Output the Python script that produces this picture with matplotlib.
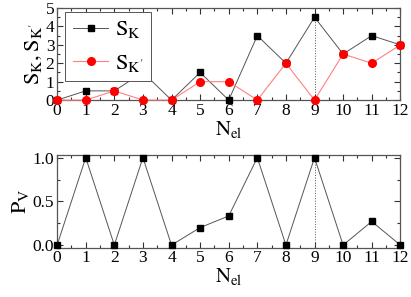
import matplotlib.pyplot as plt
from matplotlib.ticker import MultipleLocator

plt.rcParams['font.family'] = ['Liberation Serif', 'DejaVu Serif']
plt.rcParams['mathtext.fontset'] = 'stix'

# data
n_el = [0, 1, 2, 3, 4, 5, 6, 7, 8, 9, 10, 11, 12]
s_k = [0, 0.5, 0.5, 1.5, 0, 1.5, 0, 3.5, 2, 4.5, 2.5, 3.5, 3]
s_kp = [0, 0, 0.5, 0, 0, 1, 1, 0, 2, 0, 2.5, 2, 3]
p_v = [0, 1, 0, 1, 0, 0.2, 0.333, 1, 0, 1, 0, 0.27, 0]

fig = plt.figure(figsize=(4.11, 2.97), dpi=100)
ax1 = fig.add_axes([0.139, 0.663, 0.835, 0.310])
ax2 = fig.add_axes([0.139, 0.166, 0.835, 0.312])

ax1.plot(n_el, s_k, color='#555555', lw=0.7, marker='s', ms=5, mfc='black', mec='black',
         label='$\\mathrm{S_K}$', clip_on=False, zorder=3)
ax1.plot(n_el, s_kp, color='#ff8080', lw=0.8, marker='o', ms=5.5, mfc='red', mec='red',
         label="$\\mathrm{S_{K'}}$", clip_on=False, zorder=4)
ax1.plot([9, 9], [0, s_k[9]], color='#555555', lw=0.7, ls=':')
ax1.set_xlim(0, 12)
ax1.set_ylim(0, 5)
ax1.set_ylabel("$\\mathrm{S_K,S_{K'}}$", fontsize=16, labelpad=1)
ax1.set_xlabel('$\\mathrm{N_{el}}$', fontsize=15, labelpad=0)
ax1.yaxis.set_major_locator(MultipleLocator(1))
ax1.yaxis.set_minor_locator(MultipleLocator(0.5))
leg = ax1.legend(loc='upper left', fontsize=16, frameon=True, fancybox=False, framealpha=1,
                 edgecolor='#555555', handlelength=1.6, handletextpad=0.3,
                 borderpad=0.35, labelspacing=0.55, borderaxespad=0,
                 bbox_to_anchor=(0.023, 0.96))
leg.get_frame().set_linewidth(0.7)
leg.set_zorder(10)

ax2.plot(n_el, p_v, color='#555555', lw=0.7, marker='s', ms=5, mfc='black', mec='black',
         clip_on=False, zorder=3)
ax2.plot([9, 9], [0, p_v[9]], color='#555555', lw=0.7, ls=':')
ax2.set_xlim(0, 12)
ax2.set_ylim(-0.03, 1.03)
ax2.set_ylabel('$\\mathrm{P_V}$', fontsize=16, labelpad=1)
ax2.set_xlabel('$\\mathrm{N_{el}}$', fontsize=15, labelpad=0)
ax2.yaxis.set_major_locator(MultipleLocator(0.5))
ax2.yaxis.set_minor_locator(MultipleLocator(0.25))
ax2.yaxis.set_major_formatter(plt.FormatStrFormatter('%.1f'))

for ax in (ax1, ax2):
    ax.xaxis.set_major_locator(MultipleLocator(1))
    ax.xaxis.set_minor_locator(MultipleLocator(0.5))
    ax.tick_params(which='both', direction='in', top=True, right=True, labelsize=12.5,
                   color='#333333', width=0.8, pad=2)
    ax.tick_params(which='major', length=4)
    ax.tick_params(which='minor', length=2)
    for sp in ax.spines.values():
        sp.set_color('#555555')
        sp.set_linewidth(0.9)

fig.savefig('out.png', dpi=100)
